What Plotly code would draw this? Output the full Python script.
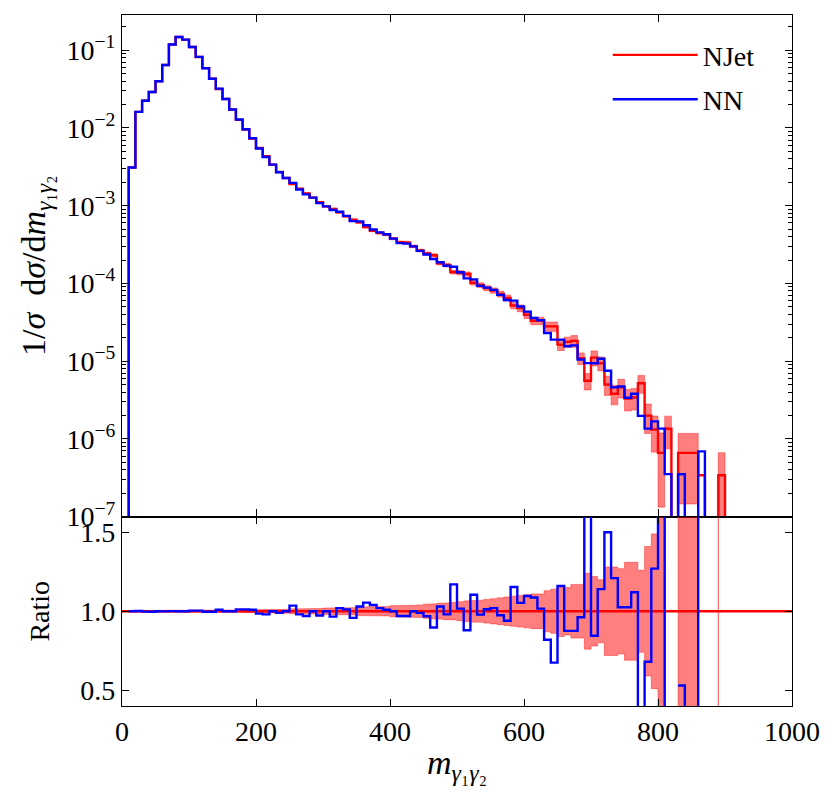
import plotly.graph_objects as go
from plotly.subplots import make_subplots

# bins of 10 GeV, left edges 0..890
bin_lo = list(range(0, 900, 10))
bin_width = 10

# NJet distribution 1/sigma dsigma/dm, one value per bin
njet = [
    0.0, 3.1e-3, 0.0161, 0.0225, 0.0291, 0.0399, 0.0647, 0.1186, 0.148, 0.137,
    0.110, 0.082, 0.059, 0.0432, 0.0318, 0.0236, 0.0173, 0.0127, 0.00953, 0.0073,
    0.00553, 0.00432, 0.00338, 0.00272, 0.00227, 0.0019, 0.00165, 0.00144, 0.00127, 0.00111,
    9.8e-4, 9.1e-4, 8.2e-4, 7.3e-4, 6.6e-4, 6.1e-4, 5.3e-4, 4.75e-4, 4.45e-4, 4.25e-4,
    3.77e-4, 3.4e-4, 3.35e-4, 3.0e-4, 2.65e-4, 2.43e-4, 2.3e-4, 1.82e-4, 1.72e-4, 1.40e-4,
    1.37e-4, 1.32e-4, 1.02e-4, 9.5e-5, 8.7e-5, 8.1e-5, 7.3e-5, 6.5e-5, 5.2e-5, 4.8e-5,
    3.95e-5, 3.3e-5, 3.3e-5, 2.8e-5, 2.8e-5, 1.63e-5, 1.77e-5, 1.82e-5, 1.09e-5, 5.6e-6,
    1.11e-5, 9.4e-6, 5.0e-6, 3.8e-6, 4.6e-6, 3.3e-6, 3.4e-6, 5.2e-6, 1.99e-6, 1.32e-6,
    6.6e-7, 1.35e-6, 0.0, 6.6e-7, 6.6e-7, 6.6e-7, 3.4e-7, 0.0, 0.0, 3.4e-7,
]

# relative NJet uncertainty per bin (None = no band)
njet_rel_err = [
    None, 0.005, 0.005, 0.005, 0.005, 0.005, 0.005, 0.005, 0.005, 0.005,
    0.006, 0.006, 0.006, 0.006, 0.006, 0.007, 0.007, 0.007, 0.008, 0.008,
    0.010, 0.010, 0.011, 0.011, 0.012, 0.015, 0.015, 0.016, 0.017, 0.018,
    0.020, 0.020, 0.021, 0.022, 0.023, 0.027, 0.027, 0.028, 0.029, 0.030,
    0.035, 0.036, 0.037, 0.038, 0.040, 0.045, 0.047, 0.050, 0.053, 0.055,
    0.060, 0.065, 0.068, 0.070, 0.075, 0.080, 0.085, 0.090, 0.095, 0.100,
    0.105, 0.110, 0.110, 0.130, 0.140, 0.160, 0.150, 0.170, 0.170, 0.240,
    0.220, 0.200, 0.280, 0.280, 0.270, 0.310, 0.310, 0.260, 0.410, 0.490,
    0.800, 0.450, None, 0.780, 0.780, 0.780, 1.000, None, None, 0.950,
]

# NN / NJet per bin (None where NJet is empty)
nn_ratio = [
    None, 1.0, 1.002, 0.998, 0.997, 1.0, 0.999, 1.001, 1.0, 1.0,
    1.004, 1.004, 0.997, 0.997, 1.01, 1.0, 1.0, 1.012, 1.012, 1.01,
    0.985, 0.98, 1.0, 0.99, 1.0, 1.036, 0.98, 0.97, 1.0, 0.973,
    1.0, 0.966, 1.02, 1.012, 0.958, 1.03, 1.055, 1.04, 1.02, 1.01,
    1.0, 0.97, 0.97, 1.0, 0.99, 0.968, 0.897, 1.03, 0.98, 1.17,
    1.017, 0.88, 1.105, 0.979, 1.013, 1.02, 0.975, 0.94, 1.154, 1.053,
    1.097, 1.087, 1.017, 0.82, 0.675, 1.16, 0.876, 0.876, 0.962, 1.68,
    0.845, 1.14, 1.5, 1.21, 1.025, 1.025, 1.12, 0.38, 0.68, 1.27,
    2.05, 0.26, None, 0.53, 0.0, 0.0, 2.03, None, None, 0.0,
]

y_tick_vals = [1e-7, 1e-6, 1e-5, 1e-4, 1e-3, 1e-2, 1e-1]
y_tick_text = [f"10<sup>\u2212{e}</sup>" for e in (7, 6, 5, 4, 3, 2, 1)]
ratio_ticks = [0.5, 1.0, 1.5]

RED = "#ff0000"
BLUE = "#0000ff"
BAND = "rgba(255,0,0,0.5)"
FONT = "Liberation Serif"
FLOOR = 1e-12

nn = [v * r if r is not None else 0.0 for v, r in zip(njet, nn_ratio)]


def step_xy(values, floor=None):
    xs = bin_lo + [bin_lo[-1] + bin_width]
    ys = []
    for v in values:
        if v is None:
            ys.append(None)
        elif floor is not None and v <= 0:
            ys.append(floor)
        else:
            ys.append(v)
    ys.append(floor if floor is not None else ys[-1])
    return xs, ys


def runs(valid):
    out, start = [], None
    for i, ok in enumerate(valid):
        if ok and start is None:
            start = i
        if not ok and start is not None:
            out.append((start, i - 1))
            start = None
    if start is not None:
        out.append((start, len(valid) - 1))
    return out


def top_band():
    lo = [v * (1 - e) if e is not None else None for v, e in zip(njet, njet_rel_err)]
    hi = [v * (1 + e) if e is not None else None for v, e in zip(njet, njet_rel_err)]
    valid = [h is not None and l > 0 for l, h in zip(lo, hi)]
    xs, ys = [], []
    for a, b in runs(valid):
        px, py = [], []
        for i in range(a, b + 1):
            px += [bin_lo[i], bin_lo[i] + bin_width]
            py += [hi[i], hi[i]]
        for i in range(b, a - 1, -1):
            px += [bin_lo[i] + bin_width, bin_lo[i]]
            py += [lo[i], lo[i]]
        px.append(px[0])
        py.append(py[0])
        xs += px + [None]
        ys += py + [None]
    return xs, ys


def ratio_band():
    # step="post" on left edges: the last point of each run has no width
    valid = [v > 0 and e is not None for v, e in zip(njet, njet_rel_err)]
    xs, ys = [], []
    for a, b in runs(valid):
        px, py = [], []
        for i in range(a, b):
            px += [bin_lo[i], bin_lo[i + 1]]
            py += [1 + njet_rel_err[i]] * 2
        px.append(bin_lo[b])
        py.append(1 + njet_rel_err[b])
        px.append(bin_lo[b])
        py.append(1 - njet_rel_err[b])
        for i in range(b - 1, a - 1, -1):
            px += [bin_lo[i + 1], bin_lo[i]]
            py += [1 - njet_rel_err[i]] * 2
        px.append(px[0])
        py.append(py[0])
        xs += px + [None]
        ys += py + [None]
    return xs, ys


fig = make_subplots(rows=2, cols=1, shared_xaxes=True, vertical_spacing=0)

bx, by = top_band()
fig.add_trace(go.Scatter(x=bx, y=by, mode="lines", fill="toself", fillcolor=BAND,
                         line=dict(color=BAND, width=0.8), showlegend=False,
                         hoverinfo="skip"), row=1, col=1)
sx, sy = step_xy(njet, FLOOR)
fig.add_trace(go.Scatter(x=sx, y=sy, mode="lines", line_shape="hv",
                         line=dict(color=RED, width=2.4), name="NJet",
                         legendgroup="a"), row=1, col=1)
sx, sy = step_xy(nn, FLOOR)
fig.add_trace(go.Scatter(x=sx, y=sy, mode="lines", line_shape="hv",
                         line=dict(color=BLUE, width=2.4), name="NN",
                         legendgroup="b"), row=1, col=1)

rx, ry = ratio_band()
fig.add_trace(go.Scatter(x=rx, y=ry, mode="lines", fill="toself", fillcolor=BAND,
                         line=dict(color=BAND, width=0.8), showlegend=False,
                         hoverinfo="skip"), row=2, col=1)
fig.add_trace(go.Scatter(x=[0, 1000], y=[1.0, 1.0], mode="lines",
                         line=dict(color=RED, width=2.4), showlegend=False),
              row=2, col=1)
sx, sy = step_xy(nn_ratio)
fig.add_trace(go.Scatter(x=sx, y=sy, mode="lines", line_shape="hv",
                         line=dict(color=BLUE, width=2.4), showlegend=False,
                         connectgaps=False), row=2, col=1)

axis_style = dict(showline=True, linecolor="black", linewidth=1.2, mirror="allticks",
                  ticks="inside", ticklen=7, tickwidth=1.2, tickcolor="black",
                  showgrid=False, zeroline=False, tickfont=dict(size=28))

minor_vals = [k * 10.0 ** e for e in range(-7, 0) for k in range(2, 10)]

fig.update_xaxes(range=[0, 1000], tickvals=[0, 200, 400, 600, 800, 1000], **axis_style)
fig.update_xaxes(showticklabels=False, row=1, col=1)
fig.update_xaxes(title=dict(text="<i>m</i><sub><i>γ</i>₁<i>γ</i>₂</sub>", standoff=4,
                            font=dict(size=34)),
                 row=2, col=1)
fig.update_yaxes(type="log", range=[-7, -0.546], tickvals=y_tick_vals,
                 ticktext=y_tick_text,
                 minor=dict(tickvals=minor_vals, ticks="inside", ticklen=4,
                            tickcolor="black", tickwidth=1, showgrid=False),
                 title=dict(text="1/<i>σ</i>  d<i>σ</i>/d<i>m</i><sub><i>γ</i>₁<i>γ</i>₂</sub>",
                            standoff=10, font=dict(size=34)),
                 domain=[0.2742, 1.0], row=1, col=1, **axis_style)
fig.update_yaxes(range=[0.4, 1.6], tickvals=ratio_ticks,
                 ticktext=["0.5", "1.0", "1.5"],
                 title=dict(text="Ratio", standoff=22, font=dict(size=28)),
                 domain=[0.0, 0.2742], row=2, col=1, **axis_style)

fig.update_layout(
    width=830,
    height=793,
    margin=dict(l=114, r=46, t=7, b=95),
    plot_bgcolor="white",
    paper_bgcolor="white",
    font=dict(family=FONT, size=26, color="black"),
    legend=dict(x=0.725, y=0.978, xanchor="left", yanchor="top",
                bgcolor="rgba(0,0,0,0)", tracegroupgap=5,
                font=dict(size=28), itemwidth=85),
    showlegend=True,
)

fig.write_html("out.html")
